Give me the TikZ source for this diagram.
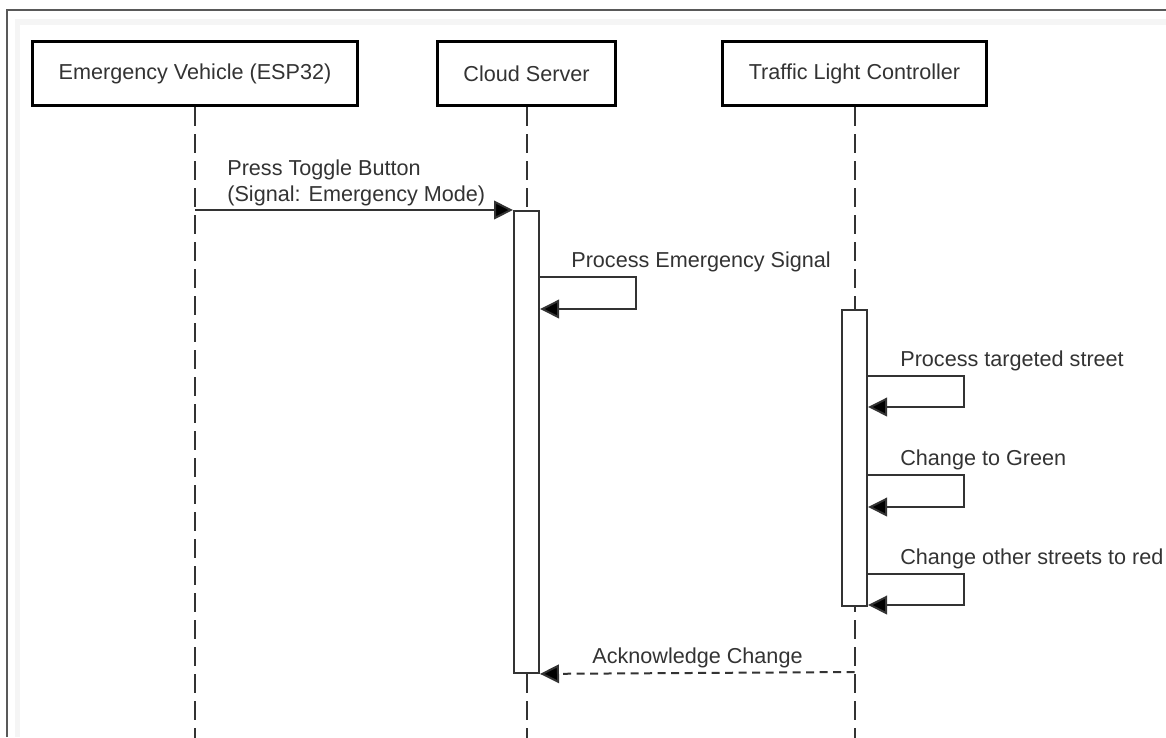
\documentclass[tikz,border=0pt]{standalone}
\usepackage{fontspec}
\setmainfont{Liberation Sans}
\usetikzlibrary{arrows.meta}
\definecolor{ink}{HTML}{333333}
\definecolor{wire}{HTML}{333333}

\begin{document}
\begin{tikzpicture}[x = 0.02cm, y = -0.02cm,
                    font = \fontsize{12.3}{14.8}\selectfont, text = ink,
                    actor/.style = {rectangle, draw = black, line width = 0.07cm, fill = white,
                                    minimum width = #1, minimum height = 1.28cm, inner sep = 0},
                    life/.style = {draw = wire, line width = 0.04cm, dash pattern = on 0.38cm off 0.16cm},
                    activ/.style = {rectangle, draw = wire, line width = 0.04cm, fill = white,
                                    minimum width = 0.5cm, minimum height = #1, anchor = north, inner sep = 0},
                    msg/.style = {draw = wire, line width = 0.04cm,
                                  -{Triangle[length = 0.38cm, width = 0.37cm, fill = black]}},
                    reply/.style = {msg, dash pattern = on 0.16cm off 0.11cm},
                    lbl/.style = {anchor = base west, inner sep = 0}]
      \useasboundingbox (0, 0) rectangle (1166, 737);

      % frame
      \fill [black!4] (15, 19) rectangle (1166, 25);
      \fill [black!4] (15, 19) rectangle (20, 737);
      \draw [black!65, line width = 0.03cm] (7, 737) -- (7, 10) -- (1166, 10);

      % participants
      \node [actor = 6.5cm] (vehicle) at (195, 73.5) {Emergency Vehicle (ESP32)};
      \node [actor = 3.56cm] (server) at (526.5, 73.5) {Cloud Server};
      \node [actor = 5.28cm] (ctrl) at (854.5, 73.5) {Traffic Light Controller};

      % message levels
      \coordinate (bottom) at (0, 740);
      \coordinate (press) at (0, 210);
      \coordinate (proc) at (0, 277);
      \coordinate (proc back) at (0, 309);
      \coordinate (street) at (0, 376);
      \coordinate (street back) at (0, 407);
      \coordinate (green) at (0, 475);
      \coordinate (green back) at (0, 507);
      \coordinate (red) at (0, 574);
      \coordinate (red back) at (0, 605);
      \coordinate (ack) at (0, 672);

      \draw [life] (vehicle.south) -- (vehicle |- bottom);
      \draw [life] (server.south) -- (server |- bottom);
      \draw [life] (ctrl.south) -- (ctrl |- bottom);

      \node [activ = 9.24cm] (srvbar) at (server |- press) {};
      \node [activ = 5.92cm] (ctrlbar) at (ctrl |- proc back) {};

      \draw [msg] (vehicle |- press) -- (srvbar.north west);
      \node [lbl, anchor = south west, align = left] (press label) at (227, 206)
            {Press Toggle Button\\(Signal: Emergency Mode)};

      \draw [msg] (srvbar.east |- proc) -- ++(96, 0) |- (srvbar.east |- proc back);
      \node [lbl] (proc label) at (571, 267) {Process Emergency Signal};

      \draw [msg] (ctrlbar.east |- street) -- ++(96, 0) |- (ctrlbar.east |- street back);
      \node [lbl] (street label) at (900, 366) {Process targeted street};

      \draw [msg] (ctrlbar.east |- green) -- ++(96, 0) |- (ctrlbar.east |- green back);
      \node [lbl] (green label) at (900, 465) {Change to Green};

      \draw [msg] (ctrlbar.east |- red) -- ++(96, 0) |- (ctrlbar.east |- red back);
      \node [lbl] (red label) at (900, 564) {Change other streets to red};

      \draw [reply] (ctrl |- ack) -- (srvbar.south east);
      \node [lbl] (ack label) at (592, 663) {Acknowledge Change};
\end{tikzpicture}
\end{document}
